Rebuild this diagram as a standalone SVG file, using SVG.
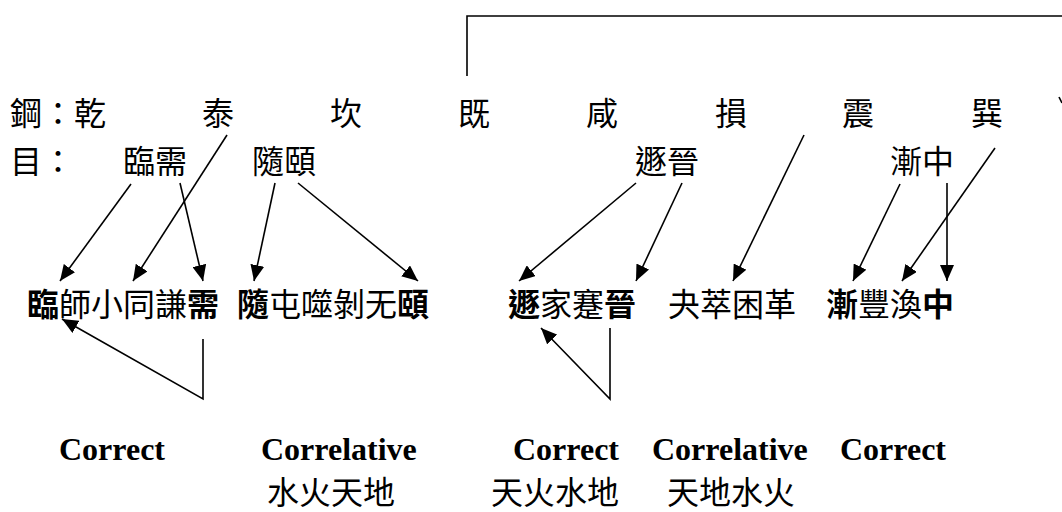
<svg xmlns="http://www.w3.org/2000/svg" width="1062" height="512" viewBox="0 0 1062 512">
<style>
.cj{font-family:"Noto Sans CJK TC","Noto Sans CJK SC",sans-serif;font-size:32px;fill:#000;}
.b{font-weight:700;}
.en{font-family:"Liberation Serif","Times New Roman",serif;font-size:32px;font-weight:700;fill:#000;}
.ln{fill:none;stroke:#000;stroke-width:1.6;}
.ar{fill:none;stroke:#000;stroke-width:1.6;marker-end:url(#ah);}
</style>
<defs>
<marker id="ah" viewBox="0 0 16 14" refX="16" refY="7" markerWidth="16" markerHeight="14" markerUnits="userSpaceOnUse" orient="auto">
<path d="M0,0 L16,7 L0,14 z" fill="#000"/>
</marker>
</defs>
<rect width="1062" height="512" fill="#fff"/>
<g id="row1">
<text class="cj" x="10" y="125">鋼：乾</text>
<text class="cj" x="202" y="125">泰</text>
<text class="cj" x="330" y="125">坎</text>
<text class="cj" x="458" y="125">既</text>
<text class="cj" x="586" y="125">咸</text>
<text class="cj" x="715" y="125">損</text>
<text class="cj" x="842" y="125">震</text>
<text class="cj" x="971" y="125">巽</text>
</g>
<g id="row2">
<text class="cj" x="10" y="173">目：</text>
<text class="cj" x="123" y="173">臨需</text>
<text class="cj" x="252" y="173">隨頤</text>
<text class="cj" x="635" y="173">遯晉</text>
<text class="cj" x="890" y="173">漸中</text>
</g>
<g id="row3">
<text class="cj" x="27" y="316"><tspan class="b">臨</tspan>師小同謙<tspan class="b">需</tspan></text>
<text class="cj" x="237" y="316"><tspan class="b">隨</tspan>屯噬剝无<tspan class="b">頤</tspan></text>
<text class="cj" x="508" y="316"><tspan class="b">遯</tspan>家蹇<tspan class="b">晉</tspan></text>
<text class="cj" x="668" y="316">夬萃困革</text>
<text class="cj" x="826" y="316"><tspan class="b">漸</tspan>豐渙<tspan class="b">中</tspan></text>
</g>
<g id="labels">
<text class="en" x="59" y="460">Correct</text>
<text class="en" x="261" y="460">Correlative</text>
<text class="en" x="513" y="460">Correct</text>
<text class="en" x="652" y="460">Correlative</text>
<text class="en" x="840" y="460">Correct</text>
</g>
<g id="elements">
<text class="cj" x="267" y="504">水火天地</text>
<text class="cj" x="491" y="504">天火水地</text>
<text class="cj" x="667" y="504">天地水火</text>
</g>
<g id="connectors">
<polyline class="ln" points="467,76 467,16 1062,16"/>
<line class="ln" x1="1059" y1="97" x2="1062" y2="103"/>
<line class="ar" x1="131" y1="184" x2="60" y2="281"/>
<line class="ar" x1="227" y1="135" x2="133" y2="281"/>
<line class="ar" x1="180" y1="183" x2="203" y2="281"/>
<line class="ar" x1="275" y1="183" x2="254" y2="281"/>
<line class="ar" x1="298" y1="183" x2="418" y2="281"/>
<line class="ar" x1="636" y1="183" x2="519" y2="281"/>
<line class="ar" x1="682" y1="183" x2="636" y2="281"/>
<line class="ar" x1="804" y1="135" x2="733" y2="281"/>
<line class="ar" x1="900" y1="184" x2="853" y2="281"/>
<line class="ar" x1="995" y1="148" x2="902" y2="281"/>
<line class="ar" x1="947" y1="183" x2="947" y2="281"/>
<polyline class="ar" points="203,339 203,399 62,319"/>
<polyline class="ar" points="610,328 610,399 541,328"/>
</g>
</svg>
